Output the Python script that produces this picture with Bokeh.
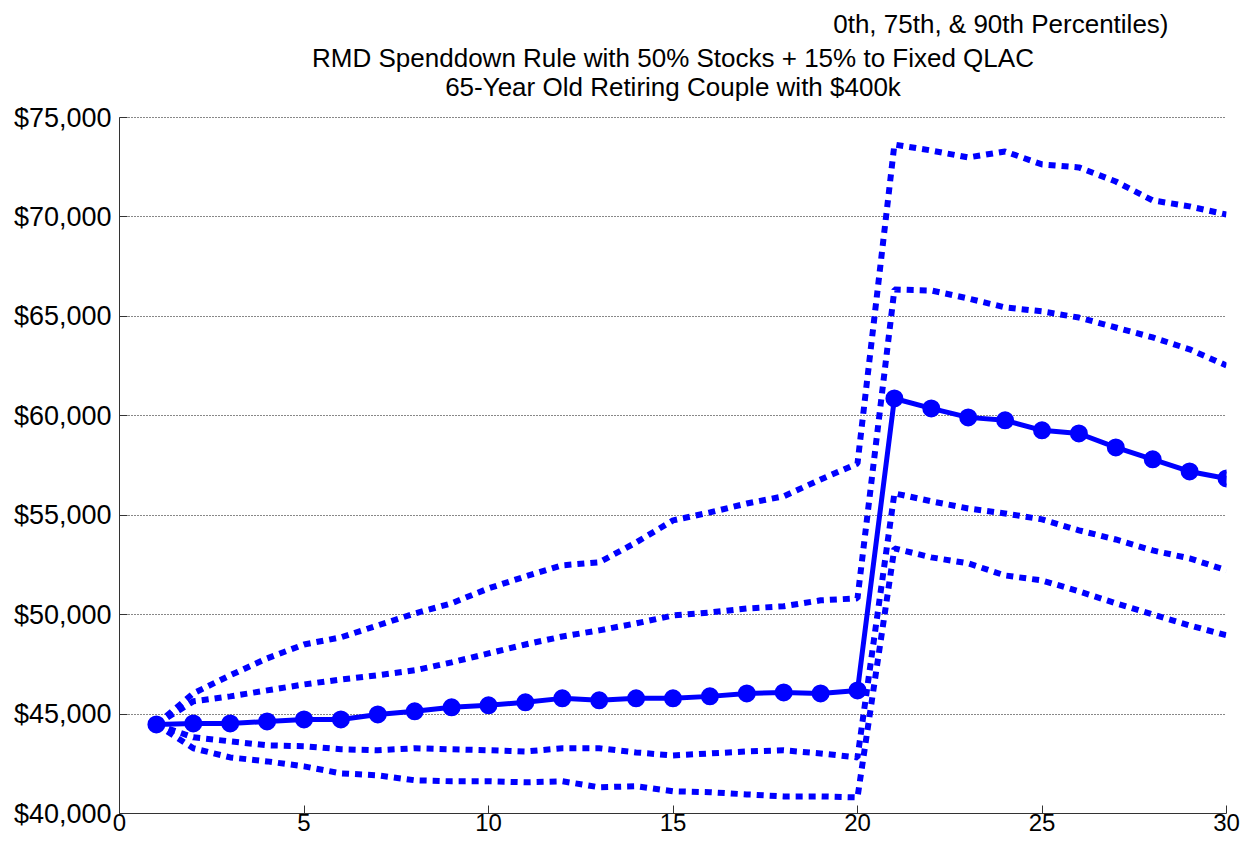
from bokeh.plotting import figure
from bokeh.models import NumeralTickFormatter, FixedTicker, Range1d, Label
from bokeh.embed import file_html
from bokeh.resources import INLINE

years = list(range(1, 31))
p10 = [44480, 43280, 42820, 42620, 42370, 42020, 41920, 41670, 41620, 41620,
       41570, 41620, 41320, 41370, 41120, 41070, 40960, 40860, 40860, 40810,
       53330, 52880, 52580, 51970, 51720, 51170, 50570, 50010, 49460, 48960]
p25 = [44480, 43830, 43630, 43430, 43380, 43230, 43180, 43280, 43230, 43180,
       43120, 43280, 43280, 43070, 42920, 43020, 43120, 43180, 43020, 42820,
       56100, 55700, 55340, 55090, 54790, 54240, 53780, 53230, 52830, 52230]
p50 = [44480, 44530, 44530, 44630, 44730, 44730, 44980, 45140, 45340, 45440,
       45590, 45790, 45690, 45790, 45790, 45890, 46040, 46090, 46040, 46190,
       60870, 60370, 59920, 59770, 59270, 59110, 58410, 57810, 57200, 56850]
p75 = [44480, 45640, 45890, 46190, 46490, 46740, 46950, 47200, 47600, 48050,
       48500, 48900, 49210, 49560, 49960, 50110, 50310, 50420, 50720, 50820,
       66350, 66300, 65900, 65450, 65250, 64940, 64440, 63940, 63340, 62530]
p90 = [44480, 46040, 46950, 47800, 48500, 48860, 49460, 50060, 50570, 51320,
       51920, 52480, 52630, 53630, 54740, 55140, 55590, 55950, 56800, 57600,
       73640, 73340, 72990, 73290, 72640, 72490, 71780, 70830, 70530, 70120]

x_ticks = [0, 5, 10, 15, 20, 25, 30]
y_ticks = [40000, 45000, 50000, 55000, 60000, 65000, 70000, 75000]

title_lines = [
    "0th, 75th, & 90th Percentiles)",
    "RMD Spenddown Rule with 50% Stocks + 15% to Fixed QLAC",
    "65-Year Old Retiring Couple with $400k",
]

FONT = "Liberation Sans"
BLUE = "#0000FF"

# layout geometry (pixels): axes box from x 119..1226, y 117 (75,000) .. 813 (40,000)
W, H = 1241, 842
LEFT, RIGHT, TOP_AX, BOTTOM = 119, 1226, 117, 813
Y_LO, Y_HI = y_ticks[0], y_ticks[-1]
per_px = (Y_HI - Y_LO) / (BOTTOM - TOP_AX)
Y_TOP = Y_HI + TOP_AX * per_px  # extend range so that the title band sits inside the frame


def y_at(px):
    return Y_HI + (TOP_AX - px) * per_px


def x_at(px):
    return (px - LEFT) / (RIGHT - LEFT) * (x_ticks[-1] - x_ticks[0])


p = figure(width=W, height=H, output_backend="svg", toolbar_location=None,
           x_range=Range1d(x_ticks[0], x_ticks[-1]), y_range=Range1d(Y_LO, Y_TOP),
           min_border_left=LEFT, min_border_right=W - RIGHT, min_border_top=0,
           min_border_bottom=H - BOTTOM)
p.outline_line_color = None
p.background_fill_color = "white"
p.border_fill_color = "white"

# axes
xa = p.xaxis[0]
xa.ticker = FixedTicker(ticks=x_ticks)
xa.major_label_text_font = FONT
xa.major_label_text_font_size = "24px"
xa.major_label_text_color = "black"
xa.major_tick_in = 8
xa.major_tick_out = 0
xa.minor_tick_in = 0
xa.minor_tick_out = 0
xa.major_label_standoff = 0
xa.axis_line_color = "#333333"
xa.major_tick_line_color = "#333333"

ya = p.yaxis[0]
ya.ticker = FixedTicker(ticks=y_ticks)
ya.bounds = (Y_LO, Y_HI)
ya.formatter = NumeralTickFormatter(format="$0,0")
ya.major_label_text_font = FONT
ya.major_label_text_font_size = "27px"
ya.major_label_text_color = "black"
ya.major_tick_in = 8
ya.major_tick_out = 0
ya.minor_tick_in = 0
ya.minor_tick_out = 0
ya.major_label_standoff = 8
ya.axis_line_color = "#333333"
ya.major_tick_line_color = "#333333"

p.xgrid.grid_line_color = None
p.ygrid.ticker = FixedTicker(ticks=y_ticks)
p.ygrid.grid_line_color = "#111111"
p.ygrid.grid_line_dash = "1 2"
p.ygrid.grid_line_width = 1

# title lines
common = dict(text_font=FONT, text_font_size="26px", text_color="black",
              text_baseline="alphabetic")
p.add_layout(Label(x=x_at(1168), y=y_at(23), text=title_lines[0], text_align="right", **common))
p.add_layout(Label(x=x_at((LEFT + RIGHT) / 2), y=y_at(57), text=title_lines[1], text_align="center", **common))
p.add_layout(Label(x=x_at((LEFT + RIGHT) / 2), y=y_at(86), text=title_lines[2], text_align="center", **common))

dot = "7 6"
for series in (p90, p75, p25, p10):
    p.line(years, series, line_color=BLUE, line_width=6, line_dash=dot, line_cap="butt")

p.line(years, p50, line_color=BLUE, line_width=5)
p.scatter(years, p50, marker="circle", size=14, fill_color=BLUE, line_color=BLUE, line_width=4)

open("out.html", "w").write(file_html(p, INLINE))
